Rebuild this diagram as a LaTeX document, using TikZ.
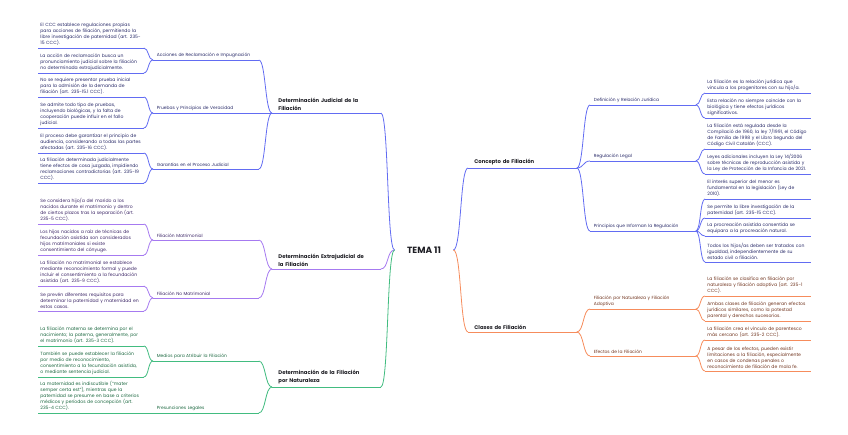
\documentclass[tikz,border=0pt]{standalone}
\usepackage{fontspec}
\setmainfont{Poppins}
\usetikzlibrary{calc}

\definecolor{lazul}{RGB}{98,108,242}
\definecolor{lmora}{RGB}{166,122,240}
\definecolor{lverde}{RGB}{66,188,128}
\definecolor{lnaranja}{RGB}{246,140,92}
\definecolor{tazul}{RGB}{40,42,104}
\definecolor{tmora}{RGB}{62,40,104}
\definecolor{tverde}{RGB}{28,104,64}
\definecolor{tnaranja}{RGB}{112,52,30}
\definecolor{titulo}{RGB}{30,30,36}

\newcommand\letrahoja{\fontsize{4.55}{6}\selectfont}
\newcommand\letrarama{\fontsize{4.42}{6.2}\selectfont}
\hyphenpenalty=10000

\tikzset{
  hoja/.style={anchor=south west, align=left, text width=101pt, inner xsep=2pt,
    inner ysep=1.8pt, font=\letrahoja},
  rama/.style={anchor=south west, align=left, text width=98pt, inner xsep=3.5pt,
    inner ysep=2pt, font=\letrarama},
  tronco/.style={anchor=south west, align=left, text width=96pt, inner xsep=6pt,
    inner ysep=2.5pt, font=\bfseries\fontsize{5.3}{8}\selectfont, text=titulo},
  curvaI/.style={to path={.. controls ([xshift=-#1]\tikztostart) and ([xshift=#1]\tikztotarget) .. (\tikztotarget)}},
  curvaD/.style={to path={.. controls ([xshift=#1]\tikztostart) and ([xshift=-#1]\tikztotarget) .. (\tikztotarget)}},
}

\begin{document}
\begin{tikzpicture}[x=1pt, y=-1pt, line width=0.8pt]
    \useasboundingbox (0,0) rectangle (848,435);

    % --- 1. Centro ---
    \node[font=\bfseries\fontsize{9}{10}\selectfont, text=titulo, minimum width=58pt,
      inner xsep=0pt] (tema) at (424,250) {TEMA 11};

    % --- 2. Determinación judicial (azul, izquierda) ---
    \begin{scope}[draw=lazul, every node/.append style={text=tazul}]
    \node[tronco] (jud) at (272,113) {Determinación Judicial de la\\Filiación};
    \node[rama] (acc) at (153,60) {Acciones de Reclamación e Impugnación};
    \node[rama] (pru) at (153,113) {Pruebas y Principios de Veracidad};
    \node[rama] (gar) at (153,169) {Garantías en el Proceso Judicial};
    \node[hoja] (a1) at (38,48) {El CCC establece regulaciones propias\\para acciones de filiación, permitiendo la\\libre investigación de paternidad (art. 235-\\15 CCC).};
    \node[hoja] (a2) at (38,73) {La acción de reclamación busca un\\pronunciamiento judicial sobre la filiación\\no determinada extrajudicialmente.};
    \node[hoja] (u1) at (38,97) {No se requiere presentar prueba inicial\\para la admisión de la demanda de\\filiación (art. 235-15.1 CCC).};
    \node[hoja] (u2) at (38,128) {Se admite todo tipo de pruebas,\\incluyendo biológicas, y la falta de\\cooperación puede influir en el fallo\\judicial.};
    \node[hoja] (g1) at (38,153) {El proceso debe garantizar el principio de\\audiencia, considerando a todas las partes\\afectadas (art. 235-16 CCC).};
    \node[hoja] (g2) at (38,183) {La filiación determinada judicialmente\\tiene efectos de cosa juzgada, impidiendo\\reclamaciones contradictorias (art. 235-19\\CCC).};
    \draw (tema.west) to[curvaI=8pt] (jud.south east);
    \foreach \a/\b in {jud/acc, jud/pru, jud/gar}
      \draw (\a.south west) to[curvaI=7pt] (\b.south east);
    \foreach \a/\b in {acc/a1, acc/a2, pru/u1, pru/u2, gar/g1, gar/g2}
      \draw (\a.south west) to[curvaI=5pt] (\b.south east);
    \foreach \n in {jud,acc,pru,gar,a1,a2,u1,u2,g1,g2}
      \draw (\n.south west) -- (\n.south east);
    \end{scope}

    % --- 3. Determinación extrajudicial (morado) ---
    \begin{scope}[draw=lmora, every node/.append style={text=tmora}]
    \node[tronco] (ext) at (272,269) {Determinación Extrajudicial de\\la Filiación};
    \node[rama] (mat) at (153,240) {Filiación Matrimonial};
    \node[rama] (nma) at (153,298) {Filiación No Matrimonial};
    \node[hoja] (m1) at (38,224) {Se considera hijo/a del marido a los\\nacidos durante el matrimonio y dentro\\de ciertos plazos tras la separación (art.\\235-5 CCC).};
    \node[hoja] (m2) at (38,255) {Los hijos nacidos a raíz de técnicas de\\fecundación asistida son considerados\\hijos matrimoniales si existe\\consentimiento del cónyuge.};
    \node[hoja] (o1) at (38,286) {La filiación no matrimonial se establece\\mediante reconocimiento formal y puede\\incluir el consentimiento a la fecundación\\asistida (art. 235-9 CCC).};
    \node[hoja] (o2) at (38,311) {Se prevén diferentes requisitos para\\determinar la paternidad y maternidad en\\estos casos.};
    \draw (tema.west) to[curvaI=8pt] (ext.south east);
    \foreach \a/\b in {ext/mat, ext/nma}
      \draw (\a.south west) to[curvaI=7pt] (\b.south east);
    \foreach \a/\b in {mat/m1, mat/m2, nma/o1, nma/o2}
      \draw (\a.south west) to[curvaI=5pt] (\b.south east);
    \foreach \n in {ext,mat,nma,m1,m2,o1,o2}
      \draw (\n.south west) -- (\n.south east);
    \end{scope}

    % --- 4. Filiación por naturaleza (verde) ---
    \begin{scope}[draw=lverde, every node/.append style={text=tverde}]
    \node[tronco] (nat) at (272,387) {Determinación de la Filiación\\por Naturaleza};
    \node[rama] (med) at (153,361) {Medios para Atribuir la Filiación};
    \node[rama] (pre) at (153,413) {Presunciones Legales};
    \node[hoja] (t1) at (38,346) {La filiación materna se determina por el\\nacimiento; la paterna, generalmente, por\\el matrimonio (art. 235-3 CCC).};
    \node[hoja] (t2) at (38,377) {También se puede establecer la filiación\\por medio de reconocimiento,\\consentimiento a la fecundación asistida,\\o mediante sentencia judicial.};
    \node[hoja] (t3) at (38,413) {La maternidad es indiscutible (``mater\\semper certa est''), mientras que la\\paternidad se presume en base a criterios\\médicos y períodos de concepción (art.\\235-4 CCC).};
    \draw (tema.west) to[curvaI=8pt] (nat.south east);
    \foreach \a/\b in {nat/med, nat/pre}
      \draw (\a.south west) to[curvaI=7pt] (\b.south east);
    \foreach \a/\b in {med/t1, med/t2, pre/t3}
      \draw (\a.south west) to[curvaI=5pt] (\b.south east);
    \foreach \n in {nat,med,pre,t1,t2,t3}
      \draw (\n.south west) -- (\n.south east);
    \end{scope}

    % --- 5. Concepto de filiación (azul, derecha) ---
    \begin{scope}[draw=lazul, every node/.append style={text=tazul}]
    \node[tronco] (con) at (468,168) {Concepto de Filiación};
    \node[rama] (def) at (590,105) {Definición y Relación Jurídica};
    \node[rama] (reg) at (590,161) {Regulación Legal};
    \node[rama] (pri) at (590,231) {Principios que Informan la Regulación};
    \node[hoja] (d1) at (705,93) {La filiación es la relación jurídica que\\vincula a los progenitores con su hijo/a.};
    \node[hoja] (d2) at (705,118) {Esta relación no siempre coincide con la\\biológica y tiene efectos jurídicos\\significativos.};
    \node[hoja] (r1) at (705,149) {La filiación está regulada desde la\\Compilació de 1960, la ley 7/1991, el Código\\de Familia de 1998 y el Libro Segundo del\\Código Civil Catalán (CCC).};
    \node[hoja] (r2) at (705,174) {Leyes adicionales incluyen la Ley 14/2006\\sobre técnicas de reproducción asistida y\\la Ley de Protección de la Infancia de 2021.};
    \node[hoja] (p1) at (705,199) {El interés superior del menor es\\fundamental en la legislación (Ley de\\2010).};
    \node[hoja] (p2) at (705,218) {Se permite la libre investigación de la\\paternidad (art. 235-15 CCC).};
    \node[hoja] (p3) at (705,236) {La procreación asistida consentida se\\equipara a la procreación natural.};
    \node[hoja] (p4) at (705,262) {Todos los hijos/as deben ser tratados con\\igualdad, independientemente de su\\estado civil o filiación.};
    \draw (tema.east) to[curvaD=8pt] (con.south west);
    \foreach \a/\b in {con/def, con/reg, con/pri}
      \draw (\a.south east) to[curvaD=7pt] (\b.south west);
    \foreach \a/\b in {def/d1, def/d2, reg/r1, reg/r2, pri/p1, pri/p2, pri/p3, pri/p4}
      \draw (\a.south east) to[curvaD=5pt] (\b.south west);
    \foreach \n in {con,def,reg,pri,d1,d2,r1,r2,p1,p2,p3,p4}
      \draw (\n.south west) -- (\n.south east);
    \end{scope}

    % --- 6. Clases de filiación (naranja) ---
    \begin{scope}[draw=lnaranja, every node/.append style={text=tnaranja}]
    \node[tronco] (cla) at (468,332) {Clases de Filiación};
    \node[rama] (nad) at (590,309) {Filiación por Naturaleza y Filiación\\Adoptiva};
    \node[rama] (efe) at (590,356) {Efectos de la Filiación};
    \node[hoja] (c1) at (705,296) {La filiación se clasifica en filiación por\\naturaleza y filiación adoptiva (art. 235-1\\CCC).};
    \node[hoja] (c2) at (705,321) {Ambas clases de filiación generan efectos\\jurídicos similares, como la potestad\\parental y derechos sucesorios.};
    \node[hoja] (f1) at (705,340) {La filiación crea el vínculo de parentesco\\más cercano (art. 235-2 CCC).};
    \node[hoja] (f2) at (705,371) {A pesar de los efectos, pueden existir\\limitaciones a la filiación, especialmente\\en casos de condenas penales o\\reconocimiento de filiación de mala fe.};
    \draw (tema.east) to[curvaD=8pt] (cla.south west);
    \foreach \a/\b in {cla/nad, cla/efe}
      \draw (\a.south east) to[curvaD=7pt] (\b.south west);
    \foreach \a/\b in {nad/c1, nad/c2, efe/f1, efe/f2}
      \draw (\a.south east) to[curvaD=5pt] (\b.south west);
    \foreach \n in {cla,nad,efe,c1,c2,f1,f2}
      \draw (\n.south west) -- (\n.south east);
    \end{scope}
\end{tikzpicture}
\end{document}
